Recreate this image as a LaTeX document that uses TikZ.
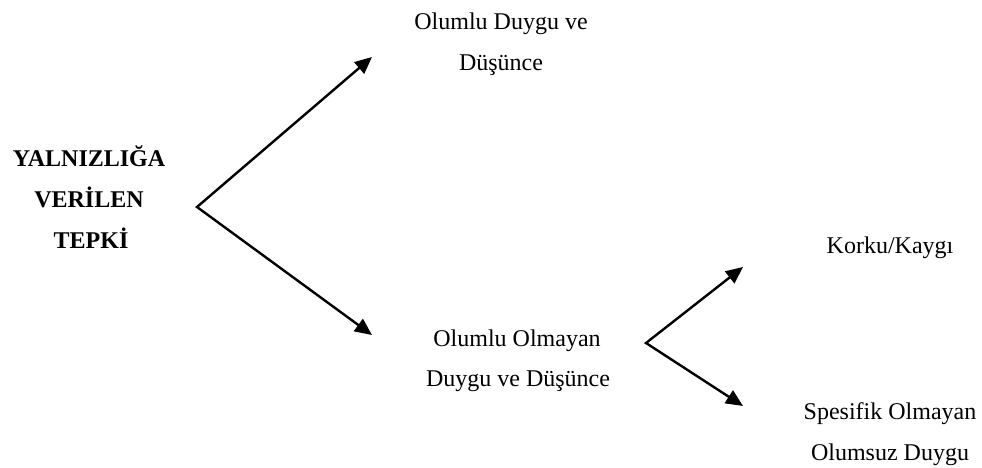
\documentclass[tikz,border=0pt]{standalone}
\usepackage{fontspec}
\setmainfont{Liberation Serif}
\usetikzlibrary{arrows.meta}
\begin{document}
\begin{tikzpicture}[x=1pt,y=-1pt,
  lbl/.style={inner sep=0pt,anchor=base,font=\fontsize{24}{28}\selectfont},
  blbl/.style={lbl,font=\fontsize{24}{28}\selectfont\bfseries},
  fork/.style={line width=2.4pt,line join=miter,{Triangle[length=17pt,width=15pt]}-{Triangle[length=17pt,width=15pt]}}]
\useasboundingbox (0,0) rectangle (982,468);
\node[blbl] (r1) at (89,166) {YALNIZLIĞA};
\node[blbl] (r2) at (89,207) {VERİLEN};
\node[blbl] (r3) at (91,248) {TEPKİ};
\node[lbl] (p1) at (501,30) {Olumlu Duygu ve};
\node[lbl] (p2) at (501,71) {Düşünce};
\node[lbl] (n1) at (517,346) {Olumlu Olmayan};
\node[lbl] (n2) at (518,386) {Duygu ve Düşünce};
\node[lbl] (k) at (890,253) {Korku/Kaygı};
\node[lbl] (s1) at (890,419) {Spesifik Olmayan};
\node[lbl] (s2) at (890,460) {Olumsuz Duygu};
\coordinate (a) at (197,207);
\coordinate (at1) at (372,57);
\coordinate (at2) at (372,335);
\coordinate (b) at (646,343);
\coordinate (bt1) at (743,267);
\coordinate (bt2) at (743,406);
\draw[fork] (at1) -- (a) -- (at2);
\draw[fork] (bt1) -- (b) -- (bt2);
\end{tikzpicture}
\end{document}
